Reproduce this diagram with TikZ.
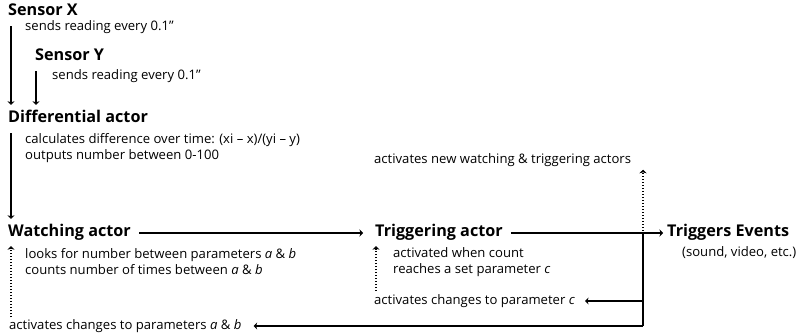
\documentclass[tikz,border=0pt]{standalone}
\usepackage{fontspec}
\setmainfont{Open Sans}
\usetikzlibrary{arrows.meta}
\tikzset{
	actor/.style={anchor=west,inner sep=0pt,text height=12pt,text depth=4pt,font=\fontsize{16.2}{18}\selectfont\bfseries},
	note/.style={anchor=west,inner sep=0pt,align=left,font=\fontsize{13.1}{16}\selectfont},
	flow/.style={-{Stealth[length=3.5pt,width=7pt,inset=1pt]},line width=1.2pt},
	cue/.style={flow,dash pattern=on 1.3pt off 1.7pt},
	link/.style={line width=1.2pt}
}

\begin{document}
\begin{tikzpicture}[x=1pt,y=-1pt]
		\useasboundingbox (0,0) rectangle (805,336);
		
		\node[actor] (sx) at (8,12) {Sensor X};
		\node[note] (sxnote) at (25,27) {sends reading every 0.1”};
		\node[actor] (sy) at (35,57) {Sensor Y};
		\node[note] (synote) at (52,76) {sends reading every 0.1”};
		
		\node[actor] (diff) at (8,119) {Differential actor};
		\node[note] (diffnote) at (25,148) {calculates difference over time: (xi – x)/(yi – y)\\outputs number between 0-100};
		
		\node[actor] (watch) at (8,233) {Watching actor};
		\node[note] (watchnote) at (25,262) {looks for number between parameters \textit{a} \& \textit{b}\\counts number of times between \textit{a} \& \textit{b}};
		
		\node[actor] (trig) at (375,233) {Triggering actor};
		\node[note] (trignote) at (393,262) {activated when count\\reaches a set parameter \textit{c}};
		
		\node[actor] (events) at (667,233) {Triggers Events};
		\node[note] (eventsnote) at (682,253) {(sound, video, etc.)};
		
		\node[note] (newact) at (374,160) {activates new watching \& triggering actors}; % feedback up
		\node[note] (chgc) at (374,301) {activates changes to parameter \textit{c}}; % feedback to trigger
		\node[note] (chgab) at (9,326) {activates changes to parameters \textit{a} \& \textit{b}}; % feedback to watcher
		
		\coordinate (split) at (643,234); % branch on trig -> events line
		\coordinate (corner) at (643,326);
		
		\draw[flow,shorten <=6pt,shorten >=6pt] ([xshift=3pt]sx.south west) -- ([xshift=3pt]diff.north west);
		\draw[flow,shorten <=6pt,shorten >=6pt] ([xshift=1pt]sy.south west) -- ([xshift=1pt]sy.south west |- diff.north);
		\draw[flow,shorten <=6pt,shorten >=6pt] ([xshift=3pt]diff.south west) -- ([xshift=3pt]watch.north west);
		\draw[flow,shorten <=8pt,shorten >=12pt] (watch.east) -- (trig.west);
		\draw[flow,shorten <=8pt,shorten >=4pt] (trig.east) -- (events.west);
		\draw[cue,shorten >=3pt] (split) -- (split |- newact.south);
		\draw[link] (split) -- (corner);
		\draw[flow,shorten >=10pt] (split |- chgc.east) -- (chgc.east);
		\draw[flow,shorten >=12pt] (corner) -- (chgab.east);
		\draw[cue,shorten <=2pt,shorten >=5pt] ([xshift=3pt]watch.south west |- chgab.north) -- ([xshift=3pt]watch.south west);
		\draw[cue,shorten <=3pt,shorten >=5pt] ([xshift=1pt]trig.south west |- chgc.north) -- ([xshift=1pt]trig.south west);
	\end{tikzpicture}
\end{document}
